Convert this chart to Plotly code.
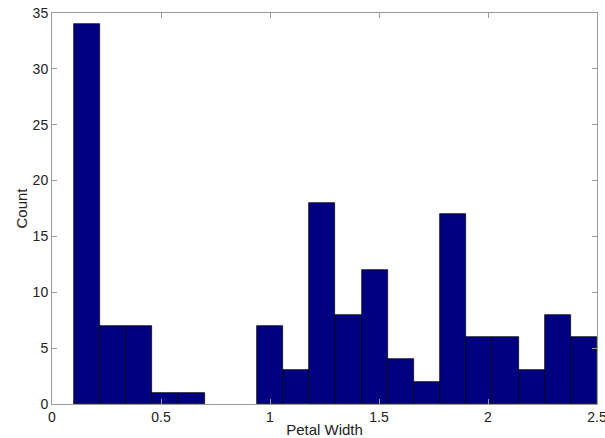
import plotly.graph_objects as go

bin_edges = [0.1, 0.22, 0.34, 0.46, 0.58, 0.70, 0.82, 0.94, 1.06, 1.18, 1.30,
             1.42, 1.54, 1.66, 1.78, 1.90, 2.02, 2.14, 2.26, 2.38, 2.50]
counts = [34, 7, 7, 1, 1, 0, 0, 7, 3, 18, 8, 12, 4, 2, 17, 6, 6, 3, 8, 6]
x_ticks = [0, 0.5, 1, 1.5, 2, 2.5]
x_tick_labels = ["0", "0.5", "1", "1.5", "2", "2.5"]
y_ticks = [0, 5, 10, 15, 20, 25, 30, 35]

centers = [(bin_edges[i] + bin_edges[i + 1]) / 2 for i in range(len(counts))]
widths = [bin_edges[i + 1] - bin_edges[i] for i in range(len(counts))]
shown = [c if c > 0 else None for c in counts]

font = "Liberation Sans, Arial, sans-serif"

fig = go.Figure(go.Bar(
    x=centers, y=shown, width=widths,
    marker=dict(color="#000080", line=dict(color="#000000", width=0.7)),
))

axis_common = dict(
    showline=True, linecolor="#9a9a9a", linewidth=1, mirror="ticks",
    ticks="inside", ticklen=5, tickcolor="#9a9a9a", showgrid=False, zeroline=False,
    automargin=False, ticklabeloverflow="allow",
    tickfont=dict(family=font, size=14, color="#222222"),
)

fig.update_layout(
    width=605, height=438,
    margin=dict(l=52, r=8, t=13, b=34),
    paper_bgcolor="white", plot_bgcolor="white",
    showlegend=False, bargap=0,
    xaxis=dict(range=[0, 2.5], tickvals=x_ticks, ticktext=x_tick_labels,
               title=dict(text="Petal Width", standoff=4,
                          font=dict(family=font, size=15, color="#222222")),
               **axis_common),
    yaxis=dict(range=[0, 35], tickvals=y_ticks,
               title=dict(text="Count", standoff=1,
                          font=dict(family=font, size=15, color="#222222")),
               **axis_common),
)

fig.write_html("out.html", config={"displayModeBar": False},
               post_script="document.body.style.margin='0';")
